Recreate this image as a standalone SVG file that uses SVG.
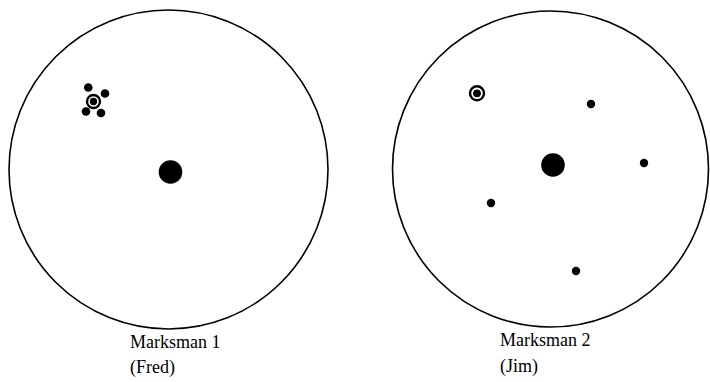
<svg xmlns="http://www.w3.org/2000/svg" width="710" height="382" viewBox="0 0 710 382">
<style>
.target{fill:none;stroke:#000;stroke-width:1.6}
.dot{fill:#000}
.ring{fill:#fff;stroke:#000;stroke-width:2.4}
.lbl{font-family:"Liberation Serif","Times New Roman",serif;font-size:18px;fill:#000}
</style>
<rect width="710" height="382" fill="#fff"/>
<g id="marksman1">
<circle class="target" cx="168.5" cy="169.5" r="159.5"/>
<circle class="dot" cx="170.5" cy="172" r="11.8"/>
<circle class="dot" cx="88.3" cy="87.5" r="4.3"/>
<circle class="dot" cx="105" cy="93.5" r="4.3"/>
<circle class="dot" cx="86" cy="111.5" r="4.3"/>
<circle class="dot" cx="101" cy="113" r="4.3"/>
<circle class="ring" cx="93.5" cy="101.5" r="6.5"/>
<circle class="dot" cx="93.5" cy="101.5" r="3.7"/>
<text class="lbl" x="130" y="348">Marksman 1</text>
<text class="lbl" x="130" y="373">(Fred)</text>
</g>
<g id="marksman2">
<circle class="target" cx="550.5" cy="169" r="158"/>
<circle class="dot" cx="553" cy="165" r="11.8"/>
<circle class="ring" cx="477" cy="93.3" r="7"/>
<circle class="dot" cx="477" cy="93.3" r="3.9"/>
<circle class="dot" cx="591" cy="104" r="4.2"/>
<circle class="dot" cx="644" cy="163" r="4.2"/>
<circle class="dot" cx="491" cy="203" r="4.2"/>
<circle class="dot" cx="576" cy="271" r="4.2"/>
<text class="lbl" x="500" y="346">Marksman 2</text>
<text class="lbl" x="500" y="372">(Jim)</text>
</g>
<g id="connectors"/>
</svg>
